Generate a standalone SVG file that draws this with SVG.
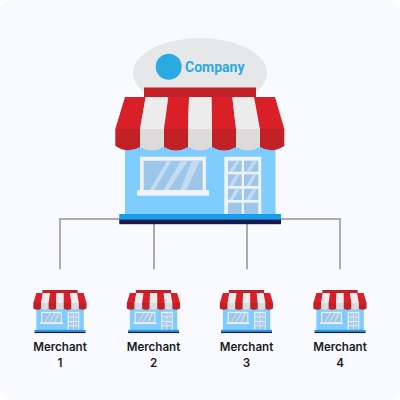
<svg xmlns="http://www.w3.org/2000/svg" width="400" height="400" viewBox="0 0 400 400">
<style>
.lbl{font-family:"Inter","Liberation Sans",sans-serif;font-size:11.6px;font-weight:600;fill:#1a1a1f;text-anchor:middle}
.conn{fill:none;stroke:#ababb0;stroke-width:2}
.red{fill:#d91f28}.white{fill:#ececec}.dred{fill:#c02026}.gray{fill:#dcdada}
.frame{fill:#f0f2f5}.glass{fill:#9cc6ea}.shine{fill:#c4dcf2}
</style>
<defs>
<g id="store">
<rect x="144" y="87.500" width="112" height="10" fill="#c02026"/>
<rect x="125" y="120" width="150.500" height="94.500" fill="#7fccff"/>
<path class="red" d="M125 97H145.700L140 129H115.300Z"/>
<path class="white" d="M145.700 97H168.300L164 129H140Z"/>
<path class="red" d="M168.300 97H189L188 129H164Z"/>
<path class="white" d="M189 97H211.700L212 129H188Z"/>
<path class="red" d="M211.700 97H232.300L236 129H212Z"/>
<path class="white" d="M232.300 97H254L260 129H236Z"/>
<path class="red" d="M254 97H275L284.300 129H260Z"/>
<path class="dred" d="M115.300 129H140V147Q127.600 154 115.300 146Z"/>
<path class="gray" d="M140 129H164V147Q152 154 140 147Z"/>
<path class="dred" d="M164 129H188V147Q176 154 164 147Z"/>
<path class="gray" d="M188 129H212V147Q200 154 188 147Z"/>
<path class="dred" d="M212 129H236V147Q224 154 212 147Z"/>
<path class="gray" d="M236 129H260V147Q248 154 236 147Z"/>
<path class="dred" d="M260 129H284.300V146Q272 154 260 147Z"/>
<rect class="frame" x="140" y="156.700" width="66" height="34"/>
<rect class="glass" x="143.700" y="160.700" width="59" height="30"/>
<path class="shine" d="M149.300 190.700L167 160.700H171.500L154 190.700ZM163 190.700L181 160.700H188L168 190.700ZM180 190.700L192 160.700H200L186 190.700Z"/>
<rect class="frame" x="137" y="190" width="72" height="5.700"/>
<rect class="frame" x="224.300" y="156.700" width="37" height="57.500"/>
<g class="glass">
<rect x="228" y="160.700" width="13.700" height="11"/><rect x="244" y="160.700" width="14.300" height="11"/>
<rect x="228" y="174.300" width="13.700" height="11.700"/><rect x="244" y="174.300" width="14.300" height="11.700"/>
<rect x="228" y="188.700" width="13.700" height="11.300"/><rect x="244" y="188.700" width="14.300" height="11.300"/>
<rect x="228" y="202.700" width="13.700" height="11.500"/><rect x="244" y="202.700" width="14.300" height="11.500"/>
</g>
<path class="shine" d="M229 171.700L236 160.700H240L233 171.700ZM246 171.700L253 160.700H257L250 171.700ZM229 186L236 174.300H240L233 186ZM246 186L253 174.300H257L250 186ZM229 200L236 188.700H240L233 200ZM246 200L253 188.700H257L250 200Z"/>
<rect x="119.300" y="214" width="161.700" height="5.500" fill="#139ff0"/>
<rect x="119.300" y="219.500" width="161.700" height="4.700" fill="#14194f"/>
</g>
</defs>
<rect x="0" y="0" width="400" height="400" rx="14" fill="#f9faff"/>
<g id="connectors">
<path class="conn" d="M60 269.300V219H340V269.300M154 219V269.300M247 219V269.300"/>
</g>
<g id="company">
<ellipse cx="200" cy="73" rx="67" ry="35" fill="#e6e7e8"/>
<use href="#store"/>
<circle cx="168.700" cy="66.700" r="13" fill="#29abe2"/>
<text x="185" y="71.500" font-family="Roboto,'Liberation Sans',sans-serif" font-size="14" font-weight="700" fill="#29abe2">Company</text>
</g>
<g id="merchant1"><use href="#store" transform="translate(60 290) scale(.315) translate(-200 -87.500)"/><text class="lbl" x="60" y="351">Merchant</text><text class="lbl" x="60" y="367">1</text></g>
<g id="merchant2"><use href="#store" transform="translate(153.500 290) scale(.315) translate(-200 -87.500)"/><text class="lbl" x="153.500" y="351">Merchant</text><text class="lbl" x="153.500" y="367">2</text></g>
<g id="merchant3"><use href="#store" transform="translate(246.500 290) scale(.315) translate(-200 -87.500)"/><text class="lbl" x="246.500" y="351">Merchant</text><text class="lbl" x="246.500" y="367">3</text></g>
<g id="merchant4"><use href="#store" transform="translate(340 290) scale(.315) translate(-200 -87.500)"/><text class="lbl" x="340" y="351">Merchant</text><text class="lbl" x="340" y="367">4</text></g>
</svg>
